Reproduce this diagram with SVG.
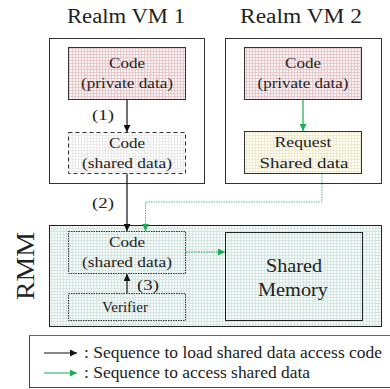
<svg xmlns="http://www.w3.org/2000/svg" width="390" height="389" viewBox="0 0 390 389" font-family="'Liberation Serif', 'DejaVu Serif', serif">
<style>
text{font-family:"Liberation Serif","DejaVu Serif",serif;fill:#222;text-anchor:middle}
.t{font-size:15.5px}
.h{font-size:20px}
.box{stroke:#333;stroke-width:1}
.blk{stroke:#111;stroke-width:1.2;fill:none}
.grn{stroke:#1faa55;stroke-width:1.2;fill:none}
</style>
<defs>
<pattern id="pk" width="3" height="3" patternUnits="userSpaceOnUse"><rect width="3" height="3" fill="#fbf3f3"/><path d="M0 0.5H3M0.5 0V3" stroke="#e6c9cc" stroke-width="1"/></pattern>
<pattern id="yl" width="3" height="3" patternUnits="userSpaceOnUse"><rect width="3" height="3" fill="#fffff6"/><path d="M0 0.5H3M0.5 0V3" stroke="#efe9cf" stroke-width="1"/></pattern>
<pattern id="gn" width="3" height="3" patternUnits="userSpaceOnUse"><rect width="3" height="3" fill="#f7fbfa"/><path d="M0 0.5H3M0.5 0V3" stroke="#d6e6e2" stroke-width="1"/></pattern>
<pattern id="gy" width="3" height="3" patternUnits="userSpaceOnUse"><rect width="3" height="3" fill="#fdfdfd"/><path d="M0 0.5H3M0.5 0V3" stroke="#ebebeb" stroke-width="1"/></pattern>
<marker id="ab" viewBox="0 0 10 10" refX="10" refY="5" markerWidth="7" markerHeight="7" markerUnits="userSpaceOnUse" orient="auto"><path d="M0 0L10 5L0 10z" fill="#111"/></marker>
<marker id="ag" viewBox="0 0 10 10" refX="10" refY="5" markerWidth="7" markerHeight="7" markerUnits="userSpaceOnUse" orient="auto"><path d="M0 0L10 5L0 10z" fill="#1faa55"/></marker>
</defs>
<rect width="390" height="389" fill="#fff"/>

<g id="vm1">
<text class="h" x="126" y="23" textLength="118" lengthAdjust="spacingAndGlyphs">Realm VM 1</text>
<rect x="49.5" y="38.5" width="155" height="145" fill="#fff" stroke="#333"/>
</g>
<g id="vm2">
<text class="h" x="301" y="23" textLength="122" lengthAdjust="spacingAndGlyphs">Realm VM 2</text>
<rect x="225.5" y="38.5" width="156" height="145" fill="#fff" stroke="#333"/>
</g>
<g id="rmm">
<rect x="49.5" y="225.5" width="332" height="101" fill="url(#gn)" stroke="#222"/>
<text x="34" y="266" font-size="26" transform="rotate(-90 34 266)" textLength="68" lengthAdjust="spacingAndGlyphs">RMM</text>
</g>

<g id="code1">
<rect x="68.5" y="47.5" width="117" height="52" fill="url(#pk)" class="box"/>
<text class="t" x="127" y="68" textLength="36" lengthAdjust="spacingAndGlyphs">Code</text>
<text class="t" x="127" y="88" textLength="92" lengthAdjust="spacingAndGlyphs">(private data)</text>
</g>
<g id="shared1">
<rect x="68.5" y="132.5" width="117" height="41" fill="url(#gy)" stroke="#333" stroke-dasharray="4,3"/>
<text class="t" x="127" y="148" textLength="36" lengthAdjust="spacingAndGlyphs">Code</text>
<text class="t" x="127" y="168" textLength="90" lengthAdjust="spacingAndGlyphs">(shared data)</text>
</g>
<g id="code2">
<rect x="244.5" y="47.5" width="117" height="52" fill="url(#pk)" class="box"/>
<text class="t" x="303" y="68" textLength="36" lengthAdjust="spacingAndGlyphs">Code</text>
<text class="t" x="303" y="88" textLength="91" lengthAdjust="spacingAndGlyphs">(private data)</text>
</g>
<g id="request">
<rect x="244.5" y="131.5" width="117" height="42" fill="url(#yl)" class="box"/>
<text class="t" x="303" y="147" textLength="57" lengthAdjust="spacingAndGlyphs">Request</text>
<text class="t" x="304" y="168" textLength="89" lengthAdjust="spacingAndGlyphs">Shared data</text>
</g>
<g id="rmmcode">
<rect x="68.5" y="231.5" width="117" height="42" fill="url(#gn)" stroke="#333" stroke-dasharray="1.5,1"/>
<text class="t" x="127" y="247" textLength="36" lengthAdjust="spacingAndGlyphs">Code</text>
<text class="t" x="127" y="267" textLength="90" lengthAdjust="spacingAndGlyphs">(shared data)</text>
</g>
<g id="verifier">
<rect x="68.5" y="293.5" width="117" height="27" fill="url(#gn)" stroke="#333" stroke-dasharray="1.5,1"/>
<text class="t" x="125" y="312" textLength="46" lengthAdjust="spacingAndGlyphs">Verifier</text>
</g>
<g id="memory">
<rect x="225.5" y="232.5" width="137" height="88" fill="url(#gn)" stroke="#222"/>
<text x="294" y="272" font-size="19" textLength="56" lengthAdjust="spacingAndGlyphs">Shared</text>
<text x="293" y="296" font-size="19" textLength="70" lengthAdjust="spacingAndGlyphs">Memory</text>
</g>

<g id="connectors">
<path class="blk" d="M127 99.5V132" marker-end="url(#ab)"/>
<text class="t" x="103" y="120" textLength="22" lengthAdjust="spacingAndGlyphs">(1)</text>
<path class="blk" d="M127 173.5V231" marker-end="url(#ab)"/>
<text class="t" x="103" y="208" textLength="22" lengthAdjust="spacingAndGlyphs">(2)</text>
<path class="blk" d="M127 293V274" marker-end="url(#ab)"/>
<text class="t" x="148" y="290" textLength="22" lengthAdjust="spacingAndGlyphs">(3)</text>
<path class="grn" d="M303 99.5V131" marker-end="url(#ag)"/>
<path d="M322 174V202H145.5V225" stroke="#5fb8a0" stroke-width="1" stroke-dasharray="1.5,1" fill="none"/>
<path d="M145.5 224V231" stroke="#1faa55" stroke-width="1.2" fill="none" marker-end="url(#ag)"/>
<path d="M186 252H225" stroke="#1faa55" stroke-width="1.2" stroke-dasharray="1.5,1" fill="none" marker-end="url(#ag)"/>
</g>

<g id="legend">
<rect x="29.5" y="335.5" width="365" height="52" fill="#fff" stroke="#444"/>
<path d="M29.5 335.5H390" stroke="#888" stroke-dasharray="1,1"/>
<path class="blk" d="M44 353H77" marker-end="url(#ab)"/>
<path class="grn" d="M44 373H77" marker-end="url(#ag)"/>
<text x="84" y="358" font-size="16" style="text-anchor:start" textLength="298" lengthAdjust="spacingAndGlyphs">: Sequence to load shared data access code</text>
<text x="84" y="378" font-size="16" style="text-anchor:start" textLength="226" lengthAdjust="spacingAndGlyphs">: Sequence to access shared data</text>
</g>
</svg>
